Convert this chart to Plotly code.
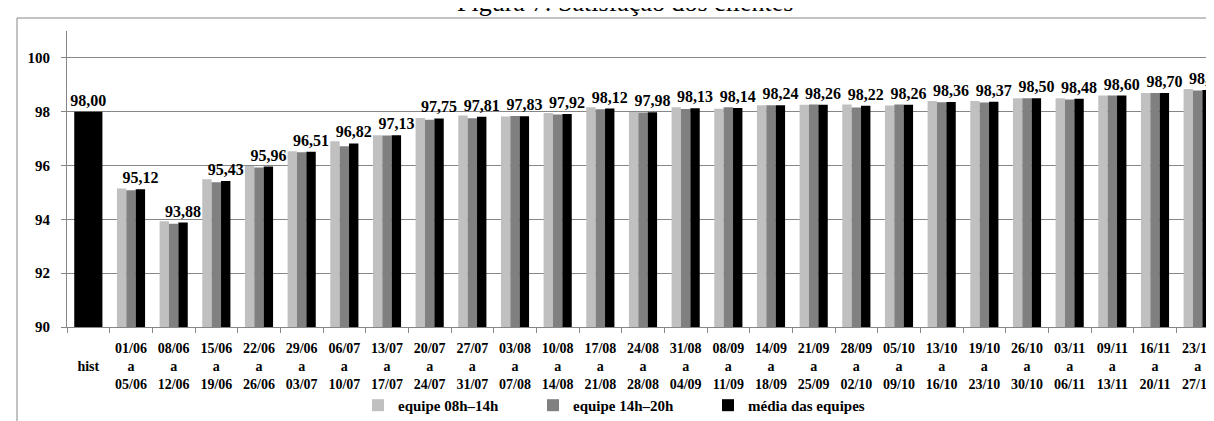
import plotly.graph_objects as go

categories = ["hist", "01/06<br>a<br>05/06", "08/06<br>a<br>12/06", "15/06<br>a<br>19/06",
              "22/06<br>a<br>26/06", "29/06<br>a<br>03/07", "06/07<br>a<br>10/07",
              "13/07<br>a<br>17/07", "20/07<br>a<br>24/07", "27/07<br>a<br>31/07",
              "03/08<br>a<br>07/08", "10/08<br>a<br>14/08", "17/08<br>a<br>21/08",
              "24/08<br>a<br>28/08", "31/08<br>a<br>04/09", "08/09<br>a<br>11/09",
              "14/09<br>a<br>18/09", "21/09<br>a<br>25/09", "28/09<br>a<br>02/10",
              "05/10<br>a<br>09/10", "13/10<br>a<br>16/10", "19/10<br>a<br>23/10",
              "26/10<br>a<br>30/10", "03/11<br>a<br>06/11", "09/11<br>a<br>13/11",
              "16/11<br>a<br>20/11", "23/11<br>a<br>27/11"]
tick_labels = [" <br>hist"] + categories[1:]

equipe_manha = [None, 95.15, 93.93, 95.49, 95.98, 96.53, 96.90, 97.13, 97.77, 97.86,
                97.82, 97.95, 98.17, 97.99, 98.17, 98.11, 98.24, 98.26, 98.27, 98.23,
                98.40, 98.40, 98.50, 98.50, 98.60, 98.70, 98.84]
equipe_tarde = [None, 95.08, 93.84, 95.38, 95.93, 96.49, 96.72, 97.12, 97.70, 97.76,
                97.84, 97.90, 98.09, 97.97, 98.10, 98.17, 98.24, 98.27, 98.16, 98.27,
                98.35, 98.34, 98.50, 98.45, 98.60, 98.70, 98.79]
media = [98.00, 95.12, 93.88, 95.43, 95.96, 96.51, 96.82, 97.13, 97.75, 97.81,
         97.83, 97.92, 98.12, 97.98, 98.13, 98.14, 98.24, 98.26, 98.22, 98.26,
         98.36, 98.37, 98.50, 98.48, 98.60, 98.70, 98.81]
names = ["equipe 08h\u201314h", "equipe 14h\u201320h", "m\u00e9dia das equipes"]
title_text = "Figura 7: Satisfa\u00e7\u00e3o dos clientes"

FONT = "Liberation Serif, Times New Roman, serif"
BW = 0.22
n = len(categories)

fig = go.Figure()
fig.add_trace(go.Bar(x=categories, y=equipe_manha, name=names[0], marker_color="#C0C0C0",
                     marker_line_width=0, width=BW, offset=-1.5 * BW))
fig.add_trace(go.Bar(x=categories, y=equipe_tarde, name=names[1], marker_color="#808080",
                     marker_line_width=0, width=BW, offset=-0.5 * BW))
fig.add_trace(go.Bar(x=categories, y=media, name=names[2], marker_color="#000000",
                     marker_line_width=0,
                     width=[3 * BW] + [BW] * (n - 1),
                     offset=[-1.5 * BW] + [0.5 * BW] * (n - 1),
                     texttemplate="%{y:.2f}", textposition="outside", constraintext="none",
                     cliponaxis=False,
                     textfont=dict(family=FONT, size=16, color="black", weight="bold")))

fig.update_layout(
    width=1214, height=421,
    barmode="overlay",
    separators=",.",
    paper_bgcolor="white", plot_bgcolor="white",
    margin=dict(l=59, r=3, t=23, b=102, autoexpand=False),
    showlegend=True,
    legend=dict(orientation="h", x=0.2526, y=-0.265, xanchor="left", yanchor="middle",
                font=dict(family=FONT, size=15, color="black", weight="bold"),
                itemwidth=30, entrywidth=130, entrywidthmode="pixels"),
    font=dict(family=FONT, color="black"),
)
fig.update_yaxes(range=[90, 101], tickvals=[90, 92, 94, 96, 98, 100],
                 showgrid=True, gridcolor="#868686", gridwidth=1,
                 showline=True, linecolor="#868686", linewidth=1,
                 ticks="outside", ticklen=5, tickcolor="#868686",
                 zeroline=False, ticklabelstandoff=8, automargin=False,
                 tickfont=dict(family=FONT, size=15, color="black", weight="bold"))
fig.update_xaxes(tickvals=categories, ticktext=tick_labels, tickson="boundaries",
                 showline=True, linecolor="#868686", linewidth=1,
                 ticks="outside", ticklen=5, tickcolor="#868686",
                 showgrid=False, tickangle=0, ticklabelstandoff=8, automargin=False,
                 tickfont=dict(family=FONT, size=14, color="black", weight="bold"))

fig.add_shape(type="rect", xref="paper", yref="paper",
              x0=-50 / 1152, x1=1.05, y0=-0.5, y1=1 + 13 / 296,
              line=dict(color="#868686", width=1), fillcolor="rgba(0,0,0,0)", layer="below")
fig.add_annotation(text=title_text, xref="paper", yref="paper", x=(617 - 59) / 1152,
                   y=1 + 12 / 296, xanchor="center", yanchor="bottom", showarrow=False,
                   font=dict(family=FONT, size=26, color="black"))

fig.write_html("out.html")
